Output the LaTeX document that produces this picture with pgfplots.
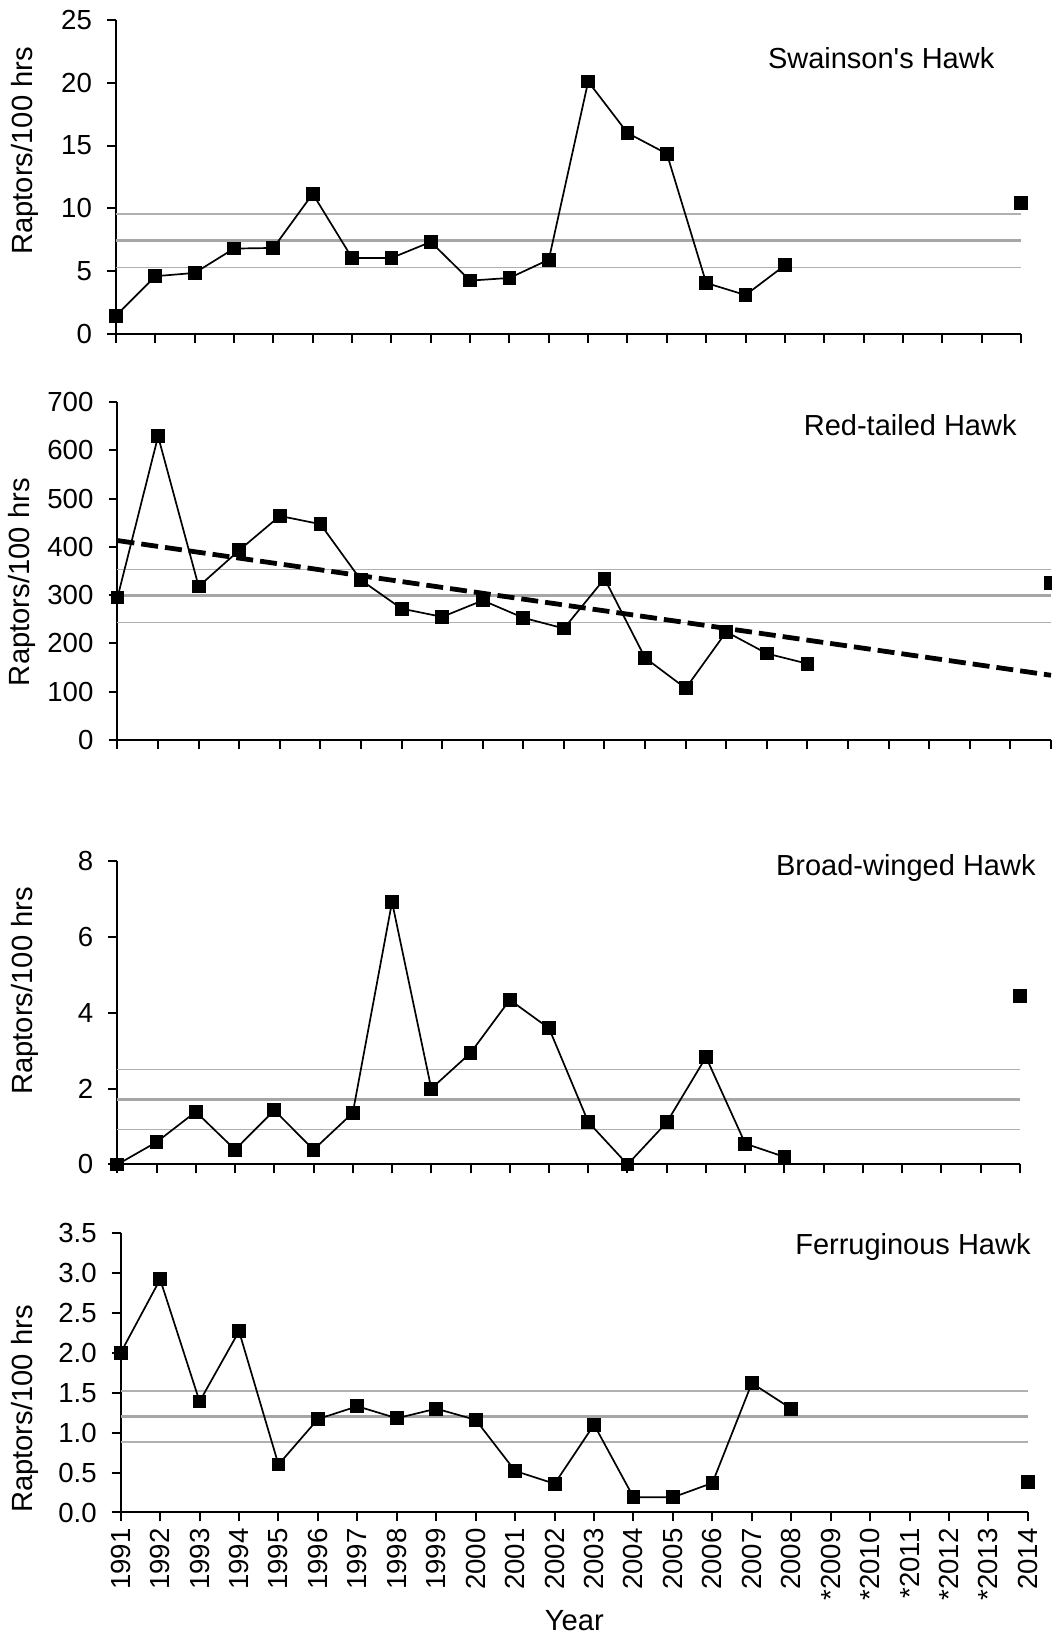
\documentclass[border=0pt]{standalone}
\usepackage{pgfplots}
\pgfplotsset{compat=1.18}
\usepackage{fontspec}
\setmainfont{Liberation Sans}

\definecolor{gthin}{HTML}{B0B0B0}
\definecolor{gmean}{HTML}{A6A6A6}

\tikzset{ptitle/.style={font=\fontsize{14.5}{17}\selectfont, anchor=east, inner sep=0pt}}

\pgfplotsset{
  panel/.style={
    scale only axis,
    anchor=south west,
    axis x line*=bottom, axis y line*=left,
    axis line style={-, line width=1pt, black},
    tick align=outside,
    major tick length=4.5pt,
    tick style={black, line width=1pt},
    xmin=1991, xmax=2014,
    xtick={1991,...,2014},
    xticklabels={},
    clip=false,
    font=\fontsize{13.6}{16}\selectfont,
    ticklabel style={font=\fontsize{13.8}{16}\selectfont},
    yticklabel style={xshift=-4pt},
    /pgf/number format/assume math mode=true,
    ylabel={Raptors/100 hrs},
    ylabel style={font=\fontsize{14.6}{17}\selectfont, anchor=center},
  },
  thinline/.style={gthin, line width=0.75pt, no marks},
  meanline/.style={gmean, line width=1.4pt, no marks},
  dataline/.style={black, line width=0.85pt, mark=square*, mark size=3.2pt, mark options={solid, fill=black, draw=black, line width=0pt}},
  datapoint/.style={only marks, mark=square*, mark size=3.2pt, mark options={fill=black, draw=black, line width=0pt}},
}

\begin{document}
\begin{tikzpicture}

% Panel 1: Swainson's Hawk
\begin{axis}[panel, at={(58pt,651.5pt)}, width=452.5pt, height=157pt,
  ymin=0, ymax=25, ytick={0,5,...,25},
  ylabel style={at={(axis description cs:-0.1006,0.583)}}]
\addplot[thinline] coordinates {(1991,9.54) (2014,9.54)};
\addplot[meanline] coordinates {(1991,7.45) (2014,7.45)};
\addplot[thinline] coordinates {(1991,5.31) (2014,5.31)};
\addplot[dataline] coordinates {
(1991,1.46) (1992,4.6) (1993,4.86) (1994,6.8) (1995,6.85) (1996,11.16)
(1997,6.05) (1998,6.05) (1999,7.33) (2000,4.25) (2001,4.46) (2002,5.92)
(2003,20.1) (2004,16.0) (2005,14.35) (2006,4.06) (2007,3.1) (2008,5.47)};
\addplot[datapoint] coordinates {(2014,10.44)};
\node[ptitle] at (axis description cs:0.971,0.879) {Swainson\textquotesingle s Hawk};
\end{axis}

% Panel 2: Red-tailed Hawk
\begin{axis}[panel, at={(58.75pt,448.5pt)}, width=466.75pt, height=169pt,
  ymin=0, ymax=700, ytick={0,100,...,700},
  ylabel style={at={(axis description cs:-0.1026,0.467)}}]
\addplot[thinline] coordinates {(1991,353) (2014,353)};
\addplot[meanline] coordinates {(1991,298.5) (2014,298.5)};
\addplot[thinline] coordinates {(1991,243) (2014,243)};
\addplot[dataline] coordinates {
(1991,295) (1992,629) (1993,318) (1994,393) (1995,464) (1996,447)
(1997,331) (1998,272) (1999,255) (2000,289) (2001,253) (2002,231)
(2003,334) (2004,170) (2005,107) (2006,224) (2007,179) (2008,158)};
\addplot[datapoint] coordinates {(2014,325)};
\addplot[black, line width=2.4pt, dash pattern=on 8.5pt off 3.5pt, no marks] coordinates {(1991,413) (2014,134)};
\node[ptitle] at (axis description cs:0.9636,0.932) {Red-tailed Hawk};
\end{axis}

% Panel 3: Broad-winged Hawk
\begin{axis}[panel, at={(58.65pt,236.25pt)}, width=451.35pt, height=151.75pt,
  ymin=0, ymax=8, ytick={0,2,...,8},
  ylabel style={at={(axis description cs:-0.1022,0.572)}}]
\addplot[thinline] coordinates {(1991,2.50) (2014,2.50)};
\addplot[meanline] coordinates {(1991,1.71) (2014,1.71)};
\addplot[thinline] coordinates {(1991,0.92) (2014,0.92)};
\addplot[dataline] coordinates {
(1991,0) (1992,0.59) (1993,1.39) (1994,0.39) (1995,1.43) (1996,0.39)
(1997,1.36) (1998,6.92) (1999,2.0) (2000,2.94) (2001,4.34) (2002,3.59)
(2003,1.12) (2004,0) (2005,1.11) (2006,2.83) (2007,0.55) (2008,0.2)};
\addplot[datapoint] coordinates {(2014,4.44)};
\node[ptitle] at (axis description cs:1.0177,0.977) {Broad-winged Hawk};
\end{axis}

% Panel 4: Ferruginous Hawk
\begin{axis}[panel, at={(60.35pt,62.25pt)}, width=453.65pt, height=139.75pt,
  ymin=0, ymax=3.5, ytick={0,0.5,...,3.5},
  yticklabel style={/pgf/number format/fixed, /pgf/number format/fixed zerofill, /pgf/number format/precision=1},
  ylabel style={at={(axis description cs:-0.1055,0.370)}},
  xticklabels={1991,1992,1993,1994,1995,1996,1997,1998,1999,2000,2001,2002,2003,2004,2005,2006,2007,2008,*2009,*2010,*2011,*2012,*2013,2014},
  xticklabel style={rotate=90, anchor=east},
  xlabel={Year},
  xlabel style={at={(axis description cs:0.5,-0.385)}, anchor=center, font=\fontsize{14.6}{17}\selectfont}]
\addplot[thinline] coordinates {(1991,1.52) (2014,1.52)};
\addplot[meanline] coordinates {(1991,1.20) (2014,1.20)};
\addplot[thinline] coordinates {(1991,0.88) (2014,0.88)};
\addplot[dataline] coordinates {
(1991,2.0) (1992,2.92) (1993,1.39) (1994,2.27) (1995,0.60) (1996,1.17)
(1997,1.33) (1998,1.18) (1999,1.30) (2000,1.16) (2001,0.52) (2002,0.36)
(2003,1.10) (2004,0.19) (2005,0.19) (2006,0.37) (2007,1.62) (2008,1.30)};
\addplot[datapoint] coordinates {(2014,0.38)};
\node[ptitle] at (axis description cs:1.0033,0.950) {Ferruginous Hawk};
\end{axis}

\pgfresetboundingbox
\useasboundingbox (0,0) rectangle (525.5pt,818.5pt);
\end{tikzpicture}
\end{document}
